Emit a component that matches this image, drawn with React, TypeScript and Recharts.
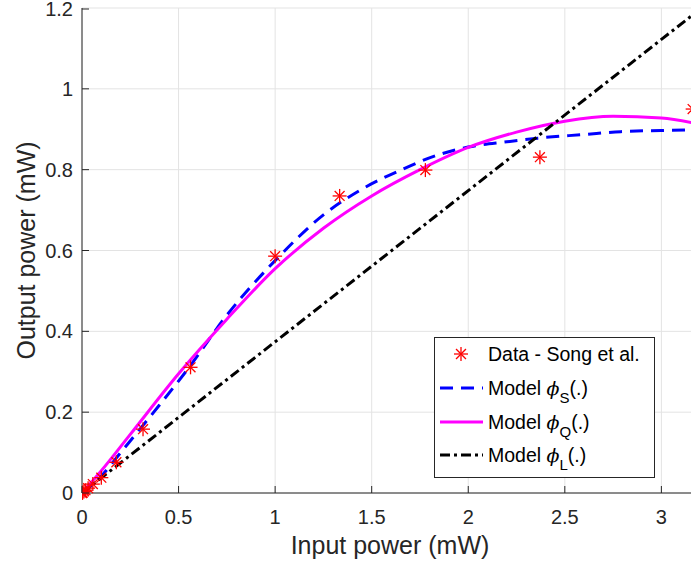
import React from 'react';
import { ComposedChart, Line, Scatter, XAxis, YAxis, CartesianGrid, Legend, Label } from 'recharts';

const xTicks = [0, 0.5, 1, 1.5, 2, 2.5, 3];
const yTicks = [0, 0.2, 0.4, 0.6, 0.8, 1, 1.2];

// Measured data (Song et al.)
const dataX = [0, 0.001, 0.00316, 0.01, 0.0178, 0.0316, 0.0562, 0.1, 0.178, 0.316, 0.562, 1.0, 1.334, 1.778, 2.371, 3.162];
const dataY = [0, 0.0004, 0.0012, 0.004, 0.007, 0.012, 0.022, 0.038, 0.076, 0.158, 0.311, 0.586, 0.735, 0.799, 0.831, 0.95];

// Model phi_S (blue dashed)
const sX = [0, 0.05, 0.1, 0.2, 0.3, 0.4, 0.55, 0.75, 1.0, 1.25, 1.45, 1.65, 1.84, 2.0, 2.2, 2.36, 2.6, 2.79, 3.0, 3.2];
const sY = [0, 0.019, 0.042, 0.1, 0.158, 0.217, 0.308, 0.44, 0.575, 0.688, 0.752, 0.799, 0.836, 0.856, 0.869, 0.878, 0.887, 0.894, 0.897, 0.899];

// Model phi_Q (magenta)
const qX = [0, 0.1, 0.25, 0.5, 0.75, 1.0, 1.25, 1.5, 1.75, 2.0, 2.25, 2.5, 2.75, 3.0, 3.2];
const qY = [0, 0.055, 0.145, 0.295, 0.43, 0.555, 0.655, 0.735, 0.8, 0.855, 0.893, 0.92, 0.932, 0.928, 0.912];

// Model phi_L (black dash-dot)
const lX = [0, 3.2];
const lY = [0, 1.197];

const legendSubs = ['S', 'Q', 'L'];

const zip = (xs: number[], ys: number[]) => xs.map((x, i) => ({ x, y: ys[i] }));
const dataPts = zip(dataX, dataY);
const sPts = zip(sX, sY);
const qPts = zip(qX, qY);
const lPts = zip(lX, lY);

const AX = '#262626';
const FONT = '"Liberation Sans", Arial, Helvetica, sans-serif';

const Star = (p: any) => {
  const { cx, cy } = p;
  if (cx == null || cy == null) return null;
  const r = 7;
  const d = r * 0.707;
  return (
    <g stroke="#ff0000" strokeWidth={1.3}>
      <line x1={cx - r} y1={cy} x2={cx + r} y2={cy} />
      <line x1={cx} y1={cy - r} x2={cx} y2={cy + r} />
      <line x1={cx - d} y1={cy - d} x2={cx + d} y2={cy + d} />
      <line x1={cx - d} y1={cy + d} x2={cx + d} y2={cy - d} />
    </g>
  );
};

const XTick = (p: any) => {
  const { x, y, payload } = p;
  return (
    <g>
      <line x1={x} y1={y} x2={x} y2={y - 7} stroke={AX} strokeWidth={1} />
      <text x={x} y={y + 24} dy="0.35em" textAnchor="middle" fontSize={20} fontFamily={FONT} fill={AX}>
        {String(payload.value)}
      </text>
    </g>
  );
};

const TopTick = (p: any) => {
  const { x, y } = p;
  return <line x1={x} y1={y} x2={x} y2={y + 7} stroke={AX} strokeWidth={1} />;
};

const YTick = (p: any) => {
  const { x, y, payload } = p;
  return (
    <g>
      <line x1={x} y1={y} x2={x + 7} y2={y} stroke={AX} strokeWidth={1} />
      <text x={x - 9} y={y} dy="0.35em" textAnchor="end" fontSize={20} fontFamily={FONT} fill={AX}>
        {String(payload.value)}
      </text>
    </g>
  );
};

const LegendBox = () => {
  const rows = [17, 51, 85, 118];
  const styles = [
    { stroke: '#0000ff', dash: '13 8' },
    { stroke: '#ff00ff', dash: undefined },
    { stroke: '#000000', dash: '10 4 3 4' },
  ];
  return (
    <svg width={222} height={142} style={{ display: 'block' }}>
      <rect x={0.5} y={0.5} width={220} height={140} fill="#ffffff" stroke={AX} strokeWidth={1} />
      <Star cx={27} cy={rows[0]} />
      <text x={54} y={rows[0] + 7} fontSize={19.5} fontFamily={FONT} fill="#000">Data - Song et al.</text>
      {legendSubs.map((s, i) => (
        <g key={s}>
          <line x1={6} y1={rows[i + 1]} x2={49} y2={rows[i + 1]} stroke={styles[i].stroke} strokeWidth={3}
            strokeDasharray={styles[i].dash} />
          <text x={54} y={rows[i + 1] + 7} fontSize={19.5} fontFamily={FONT} fill="#000">
            {'Model '}
            <tspan fontFamily='"DejaVu Serif", serif' fontStyle="italic" fontSize={19}>{'\u03D5'}</tspan>
            <tspan dy={8} fontSize={15}>{s}</tspan>
            <tspan dy={-8}>(.)</tspan>
          </text>
        </g>
      ))}
    </svg>
  );
};

export default function App() {
  return (
    <div style={{ position: 'absolute', left: 0, top: 0, width: 691, height: 565, overflow: 'hidden', background: '#fff' }}>
      <ComposedChart width={700} height={565} margin={{ top: 8, right: 0, bottom: 0, left: 0 }}>
        <CartesianGrid stroke="#e3e3e3" strokeWidth={1} />
        <XAxis dataKey="x" type="number" domain={[0, 3.2]} ticks={xTicks} allowDataOverflow
          height={72} tickSize={0} tickMargin={0} tickLine={false} tick={<XTick />}
          axisLine={{ stroke: AX, strokeWidth: 1 }}>
          <Label content={(props: any) => {
            const vb = props.viewBox;
            return (
              <text x={vb.x + vb.width / 2 - 1} y={545} dy="0.35em" textAnchor="middle" fontSize={25}
                fontFamily={FONT} fill={AX}>Input power (mW)</text>
            );
          }} />
        </XAxis>
        <XAxis xAxisId="top" orientation="top" dataKey="x" type="number" domain={[0, 3.2]} ticks={xTicks}
          height={0} tickSize={0} tickMargin={0} tickLine={false} tick={<TopTick />}
          axisLine={{ stroke: AX, strokeWidth: 1 }} />
        <YAxis type="number" domain={[0, 1.2]} ticks={yTicks} width={82} tickSize={0} tickMargin={0}
          tickLine={false} tick={<YTick />} axisLine={{ stroke: AX, strokeWidth: 1 }}>
          <Label content={(props: any) => {
            const vb = props.viewBox;
            const cx = 26;
            const cy = vb.y + vb.height / 2;
            return (
              <text x={cx} y={cy} dy="0.35em" textAnchor="middle" fontSize={25} fontFamily={FONT} fill={AX}
                transform={`rotate(-90 ${cx} ${cy})`}>Output power (mW)</text>
            );
          }} />
        </YAxis>
        <Scatter data={dataPts} dataKey="y" shape={Star} isAnimationActive={false} />
        <Line data={sPts} dataKey="y" type="monotone" stroke="#0000ff" strokeWidth={3} strokeDasharray="13 8"
          dot={false} isAnimationActive={false} />
        <Line data={qPts} dataKey="y" type="monotone" stroke="#ff00ff" strokeWidth={3}
          dot={false} isAnimationActive={false} />
        <Line data={lPts} dataKey="y" type="linear" stroke="#000000" strokeWidth={3} strokeDasharray="10 4 3 4"
          dot={false} isAnimationActive={false} />
        <Legend layout="horizontal" verticalAlign="middle" align="center" content={() => <LegendBox />}
          wrapperStyle={{ position: 'absolute', left: 434, top: 337, width: 222, height: 142 }} />
      </ComposedChart>
    </div>
  );
}
